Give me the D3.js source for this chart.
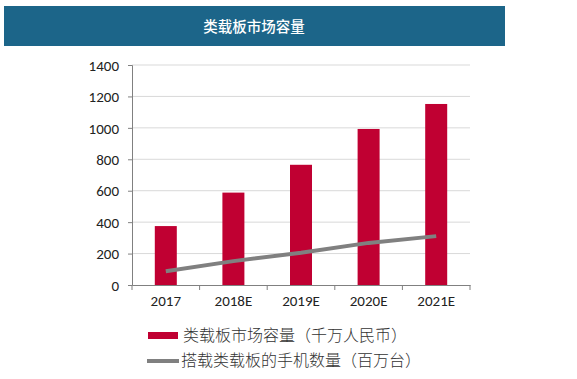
<!DOCTYPE html>
<html><head><meta charset="utf-8">
<script src="https://cdn.jsdelivr.net/npm/d3@7"></script>
<style>body{margin:0;background:#fff}svg{display:block}</style>
</head><body>
<script>
const categories = ["2017", "2018E", "2019E", "2020E", "2021E"];
const marketSize = [375, 588, 765, 993, 1152];
const phoneCount = [88, 152, 205, 268, 311];
const yTicks = [0, 200, 400, 600, 800, 1000, 1200, 1400];
const title = "类载板市场容量";
const legendLabels = ["类载板市场容量（千万人民币）", "搭载类载板的手机数量（百万台）"];

const W = 577, H = 379;
const svg = d3.select("body").append("svg").attr("width", W).attr("height", H);

// Header banner
svg.append("rect").attr("x", 4).attr("y", 6).attr("width", 501).attr("height", 40).attr("fill", "#1c6589");
svg.append("text").attr("x", 254).attr("y", 32).attr("text-anchor", "middle")
  .attr("fill", "#fff").attr("font-family", "'Noto Sans CJK SC'").attr("font-size", 14.5).attr("font-weight", 500)
  .text(title);

const x = d3.scaleBand().domain(categories).range([132, 470]);
const y = d3.scaleLinear().domain([0, 1400]).range([285, 65]);

// gridlines
svg.append("g").selectAll("line").data(yTicks.filter(d => d > 0)).join("line")
  .attr("x1", 132).attr("x2", 470).attr("y1", d => y(d)).attr("y2", d => y(d))
  .attr("stroke", "#d9d9d9").attr("stroke-width", 1);

// bars
const bw = 22;
svg.append("g").selectAll("rect").data(categories).join("rect")
  .attr("x", d => x(d) + x.bandwidth() / 2 - bw / 2)
  .attr("y", (d, i) => y(marketSize[i]))
  .attr("width", bw)
  .attr("height", (d, i) => y(0) - y(marketSize[i]))
  .attr("fill", "#c00032");

// line
const line = d3.line().x((d, i) => x(categories[i]) + x.bandwidth() / 2).y(d => y(d));
svg.append("path").datum(phoneCount).attr("d", line)
  .attr("fill", "none").attr("stroke", "#808080").attr("stroke-width", 4);

// axes
const yAxis = svg.append("g").attr("transform", "translate(132,0)")
  .call(d3.axisLeft(y).tickValues(yTicks).tickSize(4).tickPadding(9).tickFormat(d3.format("d")));
const xAxis = svg.append("g").attr("transform", "translate(0,285)")
  .call(d3.axisBottom(x).tickSize(0).tickPadding(10));
svg.append("g").attr("transform", "translate(0,285)").selectAll("line")
  .data(d3.range(categories.length + 1)).join("line")
  .attr("x1", i => 132 + i * x.step()).attr("x2", i => 132 + i * x.step())
  .attr("y1", 0).attr("y2", 5).attr("stroke", "#808080");
[yAxis, xAxis].forEach(g => {
  g.select(".domain").attr("stroke", "#808080");
  g.selectAll(".tick line").attr("stroke", "#808080");
  g.selectAll("text").attr("font-family", "Carlito, 'Liberation Sans', sans-serif").attr("font-size", 15).attr("fill", "#222");
});
yAxis.selectAll("text").attr("dy", "0.35em");

// legend
const lg = svg.append("g").attr("font-family", "'Noto Sans CJK SC'").attr("font-size", 16).attr("font-weight", 300).attr("fill", "#333");
lg.append("rect").attr("x", 148).attr("y", 332).attr("width", 30).attr("height", 7).attr("fill", "#c00032");
lg.append("text").attr("x", 183).attr("y", 341).text(legendLabels[0]);
lg.append("line").attr("x1", 147).attr("x2", 179).attr("y1", 361).attr("y2", 361).attr("stroke", "#808080").attr("stroke-width", 4);
lg.append("text").attr("x", 181).attr("y", 366).text(legendLabels[1]);
</script>
</body></html>
